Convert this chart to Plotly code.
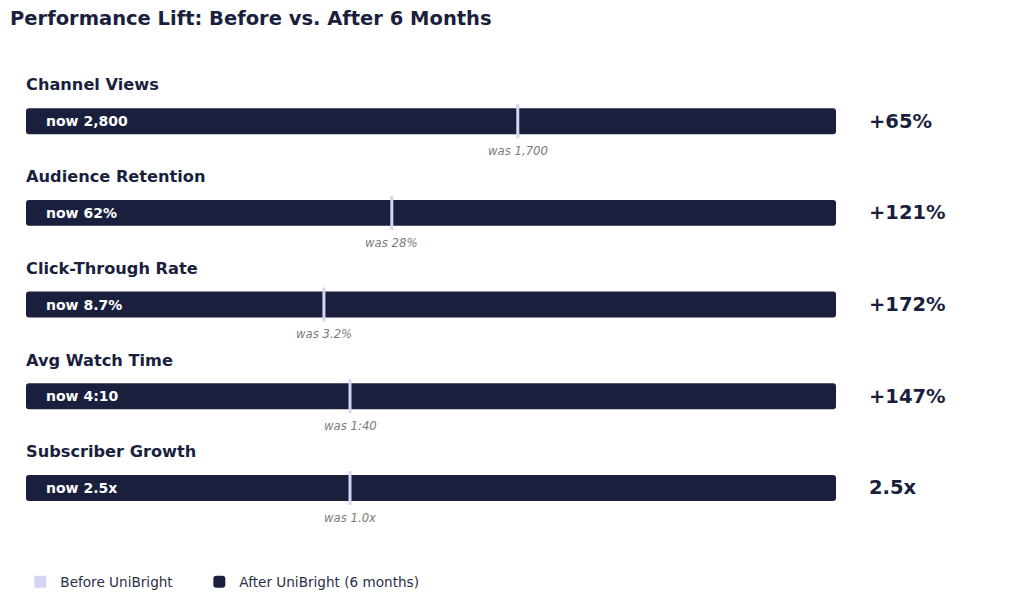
import plotly.graph_objects as go

NAVY = "#1a1f3d"
LAVENDER = "#d5d5f6"
FONT = "DejaVu Sans"

# data
metrics = ["Channel Views", "Audience Retention", "Click-Through Rate", "Avg Watch Time", "Subscriber Growth"]
before_vals = [1700, 28, 3.2, 100, 1.0]
after_vals = [2800, 62, 8.7, 250, 2.5]
before_labels = ["1,700", "28%", "3.2%", "1:40", "1.0x"]
after_labels = ["2,800", "62%", "8.7%", "4:10", "2.5x"]
lift_labels = ["+65%", "+121%", "+172%", "+147%", "2.5x"]

rows = list(range(len(metrics)))
# each row is scaled so that the "after" value fills the whole track
after_frac = [a / a for a in after_vals]
before_frac = [b / a for b, a in zip(before_vals, after_vals)]

tick_w = 0.0037

fig = go.Figure()

fig.add_trace(go.Bar(
    y=rows, x=after_frac, base=[0] * len(rows), orientation="h",
    width=0.283, marker=dict(color=NAVY, cornerradius=3, line=dict(width=0)),
    name="After UniBright (6 months)", hoverinfo="skip",
))
fig.add_trace(go.Bar(
    y=rows, x=[tick_w] * len(rows), base=[f - tick_w / 2 for f in before_frac],
    orientation="h", width=0.37, marker=dict(color=LAVENDER, line=dict(width=0)),
    name="Before UniBright", hoverinfo="skip", legendwidth=134,
))

annotations = []
for r, name, bf, bl, al, lift in zip(rows, metrics, before_frac, before_labels, after_labels, lift_labels):
    # metric label above the bar
    annotations.append(dict(x=0, y=r - 0.395, xref="x", yref="y", text="<b>%s</b>" % name,
                            xanchor="left", yanchor="middle", xshift=-2, showarrow=False,
                            font=dict(family=FONT, size=16.2, color=NAVY)))
    # "now" label inside the bar
    annotations.append(dict(x=0, y=r, xref="x", yref="y", text="<b>now %s</b>" % al,
                            xanchor="left", yanchor="middle", xshift=18, showarrow=False,
                            font=dict(family=FONT, size=14, color="white")))
    # "was" label beneath the before marker
    annotations.append(dict(x=bf, y=r + 0.325, xref="x", yref="y", text="<i>was %s</i>" % bl,
                            xanchor="center", yanchor="middle", showarrow=False,
                            font=dict(family=FONT, size=11.7, color="#7a7a7a")))
    # lift on the right
    annotations.append(dict(x=1.0383, y=r, xref="paper", yref="y", text="<b>%s</b>" % lift,
                            xanchor="left", yanchor="middle", showarrow=False,
                            font=dict(family=FONT, size=19.5, color=NAVY)))

fig.update_layout(
    width=1016, height=597,
    paper_bgcolor="white", plot_bgcolor="white",
    margin=dict(l=18, r=188, t=49, b=40),
    barmode="overlay",
    title=dict(text="<b>Performance Lift: Before vs. After 6 Months</b>", x=0.002, xanchor="left",
               y=0.983, yanchor="middle", font=dict(family=FONT, size=19.5, color=NAVY)),
    xaxis=dict(range=[0, 1], visible=False, fixedrange=True),
    yaxis=dict(range=[4.84, -0.70], visible=False, fixedrange=True),
    showlegend=True,
    legend=dict(orientation="h", x=-0.007, xanchor="left", yref="container", y=0.0385, yanchor="middle",
                traceorder="reversed", font=dict(family=FONT, size=13.6, color="#2a2f45"),
                bgcolor="rgba(0,0,0,0)"),
    annotations=annotations,
    font=dict(family=FONT),
)

fig.write_html("out.html")
